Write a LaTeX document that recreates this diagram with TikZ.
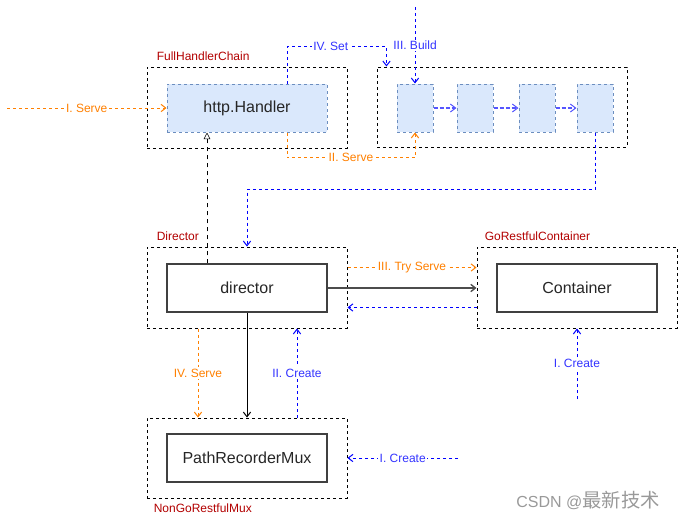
\documentclass[tikz,border=0pt]{standalone}
\usepackage{fontspec}
\setmainfont{Liberation Sans}
\newfontfamily\cjkfont{Noto Sans CJK SC}
\usepackage{xcolor}
\usetikzlibrary{positioning,calc,arrows.meta}
\definecolor{flowblue}{HTML}{0000FF}
\definecolor{lblblue}{HTML}{3333FF}
\definecolor{chainblue}{HTML}{5555FF}
\definecolor{floworange}{HTML}{FF8000}
\definecolor{grpred}{HTML}{B20000}
\definecolor{boxfill}{HTML}{DAE8FC}
\definecolor{boxedge}{HTML}{6C8EBF}

\begin{document}
\begin{tikzpicture}[x=0.75pt,y=-0.75pt,
    >={Straight Barb[length=3.5pt,width=5.5pt]},
    group/.style={draw,dash pattern=on 2.25pt off 2.25pt,line width=0.75pt,minimum width=150pt,minimum height=60.75pt,inner sep=0pt},
    part/.style={draw=black!75,line width=1.1pt,minimum width=120pt,minimum height=36pt,inner sep=0pt,text=black!85,font=\fontsize{12}{14}\selectfont},
    hpart/.style={part,fill=boxfill,draw=boxedge,line width=0.75pt,dash pattern=on 2.25pt off 2.25pt},
    link/.style={draw=boxedge,fill=boxfill,line width=0.75pt,dash pattern=on 2.25pt off 2.25pt,minimum width=27pt,minimum height=36pt,inner sep=0pt},
    grouplbl/.style={text=grpred,font=\fontsize{9}{10}\selectfont,inner sep=0pt},
    orangeflow/.style={draw=floworange,line width=0.75pt,dash pattern=on 2.25pt off 2.25pt,->},
    blueflow/.style={draw=flowblue,line width=0.75pt,dash pattern=on 2.25pt off 2.25pt,->},
    chainflow/.style={draw=chainblue,line width=1pt,dash pattern=on 3pt off 1.5pt,-{Straight Barb[length=4pt,width=6pt,line width=0.75pt]}},
    olbl/.style={fill=white,inner sep=1pt,text=floworange,font=\fontsize{9}{10}\selectfont},
    blbl/.style={fill=white,inner sep=1pt,text=lblblue,font=\fontsize{9}{10}\selectfont}]
    \useasboundingbox (0,0) rectangle (678,519);

    % handler chain
    \node[group] (fhc) at (247,107.5) {};
    \node[hpart] (handler) at (247,108) {http.Handler};
    \node[grouplbl,anchor=west] (fhcname) at ([xshift=7.5pt,yshift=7.5pt]fhc.north west) {FullHandlerChain};
    \node[group,minimum width=187.5pt,minimum height=60pt] (chain) at (502,107) {};
    \foreach \i/\x in {1/415,2/475,3/537,4/595}
        \node[link] (l\i) at (\x,108) {};
    \foreach \i/\j in {1/2,2/3,3/4}
        \draw[chainflow] (l\i) -- (l\j);

    % director and container
    \node[group] (dir) at (247,287.5) {};
    \node[part] (director) at (247,288) {director};
    \node[grouplbl,anchor=west] (dirname) at ([xshift=7.5pt,yshift=7.5pt]dir.north west) {Director};
    \node[group] (grc) at (577,287.5) {};
    \node[part] (container) at (577,288) {Container};
    \node[grouplbl,anchor=west] (grcname) at ([xshift=6pt,yshift=7.5pt]grc.north west) {GoRestfulContainer};

    % mux
    \node[group,minimum height=60pt] (ngm) at (247,458) {};
    \node[part] (mux) at (247,458) {PathRecorderMux};
    \node[grouplbl,anchor=west] (ngmname) at ([xshift=5.25pt,yshift=-7.5pt]ngm.south west) {NonGoRestfulMux};

    % serve / build lines
    \coordinate (serveIn) at (7,108);
    \draw[orangeflow] (serveIn) -- node[olbl] {I. Serve} (handler.west);
    \draw[blueflow] ([xshift=30pt]handler.north) -- ++(0,-37) -| node[blbl,pos=0.22] {IV. Set} ([xshift=7.5pt]chain.north west);
    \draw[orangeflow] ([xshift=30pt]handler.south) -- ++(0,25) -| node[olbl,pos=0.25] {II. Serve} (l1.south);
    \coordinate (buildIn) at (415,7);
    \draw[blueflow] (buildIn) -- node[blbl] {III. Build} (l1.north);
    \draw[blueflow] (l4.south) -- ++(0,57) -| (dir.north);
    \draw[dashed,-{Triangle[open,length=5pt,width=5pt]}] ([xshift=-30pt]director.north) -- ([xshift=-30pt]handler.south);

    % director <-> container
    \draw[orangeflow] ([yshift=15pt]dir.east) -- node[olbl] {III. Try Serve} ([yshift=15pt]grc.west);
    \draw[->,draw=black!70,line width=1pt] (director.east) -- (director.east -| grc.west);
    \draw[blueflow] ([yshift=-15pt]grc.west) -- ([yshift=-15pt]dir.east);

    % director <-> mux
    \draw[orangeflow] ([xshift=-36.75pt]dir.south) -- node[olbl] {IV. Serve} ([xshift=-36.75pt]ngm.north);
    \draw[->,line width=0.75pt] (director.south) -- (ngm.north);
    \draw[blueflow] ([xshift=37.5pt]ngm.north) -- node[blbl] {II. Create} ([xshift=37.5pt]dir.south);

    % create lines
    \coordinate (muxIn) at (458,458);
    \draw[blueflow] (muxIn) -- node[blbl] {I. Create} (ngm.east);
    \coordinate (contIn) at (577,399);
    \draw[blueflow] (contIn) -- node[blbl] {I. Create} (grc.south);

    \node[text=black!40,font=\fontsize{12}{13}\selectfont] (mark) at (588,500) {CSDN @{\cjkfont\fontsize{14.5}{15}\selectfont 最新技术}};
\end{tikzpicture}
\end{document}
